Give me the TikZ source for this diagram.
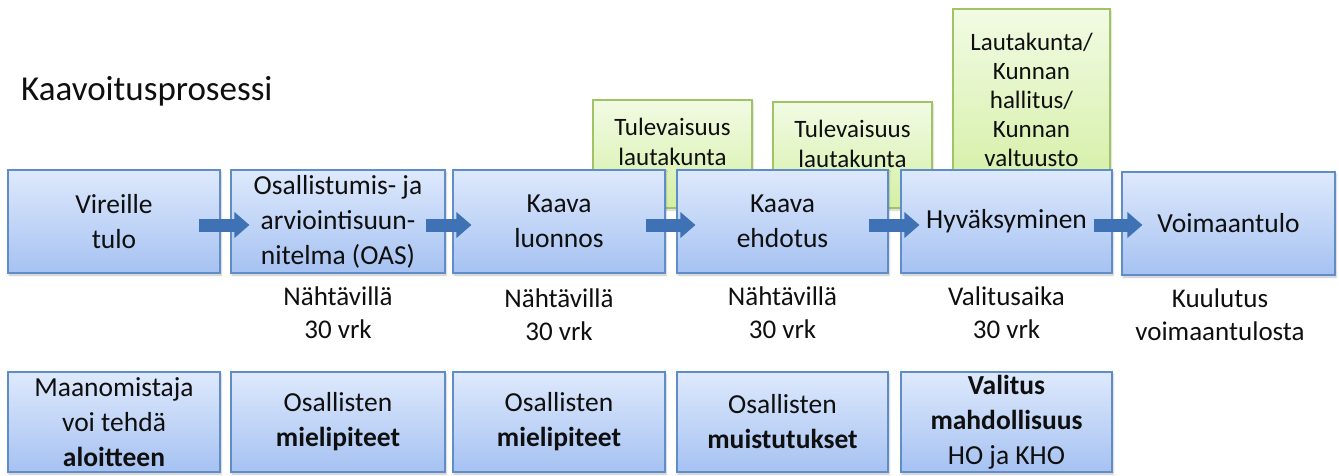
\documentclass[tikz,border=0pt]{standalone}
\usepackage{fontspec}
\setmainfont{Carlito}
\usetikzlibrary{arrows.meta,shadows.blur,calc}
\definecolor{bluetop}{RGB}{222,233,252}
\definecolor{bluebot}{RGB}{166,194,242}
\definecolor{blueedge}{RGB}{96,140,200}
\definecolor{greentop}{RGB}{242,251,228}
\definecolor{greenbot}{RGB}{212,239,165}
\definecolor{greenedge}{RGB}{160,196,100}
\definecolor{arrowblue}{RGB}{62,114,180}
\definecolor{txt}{RGB}{15,15,15}
\tikzset{
  bluebox/.style={draw=blueedge, line width=1.1pt, top color=bluetop, bottom color=bluebot,
    minimum width=212pt, minimum height=103pt, align=center, text=txt, inner sep=2pt,
    font=\fontsize{27.5}{35}\selectfont,
    blur shadow={shadow xshift=1pt, shadow yshift=-2pt, shadow blur steps=4, shadow opacity=25}},
  lowbox/.style={bluebox, minimum height=100pt},
  greenbox/.style={draw=greenedge, line width=1.1pt, top color=greentop, bottom color=greenbot,
    minimum width=159pt, inner sep=0pt,
    blur shadow={shadow xshift=1pt, shadow yshift=-2pt, shadow blur steps=4, shadow opacity=20}},
  greentext/.style={align=center, text=txt, font=\fontsize{25}{30}\selectfont, inner sep=0pt},
  undertext/.style={align=center, text=txt, font=\fontsize{27}{33}\selectfont, inner sep=0pt},
  flow/.style={draw=arrowblue, line width=13pt, -{Triangle[length=15pt,width=25pt]}},
}
\begin{document}
\begin{tikzpicture}[x=1pt,y=-1pt]
\useasboundingbox (0,0) rectangle (1339,475);
\node[anchor=base west, text=txt, font=\fontsize{35}{40}\selectfont, inner sep=0pt] (title) at (21,100) {Kaavoitusprosessi};
% green boxes (behind)
\node[greenbox, minimum height=108pt] (g1box) at (672.5,154) {};
\node[greentext] (g1) at (672.5,142) {Tulevaisuus\\lautakunta};
\node[greenbox, minimum height=106pt] (g2box) at (852.5,155) {};
\node[greentext] (g2) at (852.5,144) {Tulevaisuus\\lautakunta};
\node[greenbox, minimum width=157pt, minimum height=182pt] (g3box) at (1031.5,100) {};
\node[greentext, font=\fontsize{25}{29}\selectfont] (g3) at (1031.5,100) {Lautakunta/\\Kunnan\\hallitus/\\Kunnan\\valtuusto};
% top row
\node[bluebox] (b1) at (114,221.5) {Vireille\\tulo};
\node[bluebox, minimum width=214pt] (b2) at (338,221.5) {Osallistumis- ja\\arviointisuun-\\nitelma (OAS)};
\node[bluebox] (b3) at (559,221.5) {Kaava\\luonnos};
\node[bluebox, minimum width=211pt] (b4) at (782.5,221.5) {Kaava\\ehdotus};
\node[bluebox, minimum width=211pt] (b5) at (1006.5,221.5) {Hyväksyminen};
\node[bluebox, minimum width=213pt] (b6) at (1228.5,223.5) {Voimaantulo};
% arrows
\coordinate (a1s) at ($(b1.east)+(-22,3.5)$);
\coordinate (a1e) at ($(b2.west)+(19,3.5)$);
\coordinate (a2s) at ($(b2.east)+(-20,3.5)$);
\coordinate (a2e) at ($(b3.west)+(19,3.5)$);
\coordinate (a3s) at ($(b3.east)+(-20,3.5)$);
\coordinate (a3e) at ($(b4.west)+(19,3.5)$);
\coordinate (a4s) at ($(b4.east)+(-20,3.5)$);
\coordinate (a4e) at ($(b5.west)+(19,3.5)$);
\coordinate (a5s) at ($(b5.east)+(-19,3.5)$);
\coordinate (a5e) at ($(b6.west)+(21,1.5)$);
\draw[flow] (a1s) -- (a1e);
\draw[flow] (a2s) -- (a2e);
\draw[flow] (a3s) -- (a3e);
\draw[flow] (a4s) -- (a4e);
\draw[flow] (a5s) -- (a5e);
% texts under
\node[undertext] (u2) at (338,313) {Nähtävillä\\30 vrk};
\node[undertext] (u3) at (559,315) {Nähtävillä\\30 vrk};
\node[undertext] (u4) at (782.5,313) {Nähtävillä\\30 vrk};
\node[undertext] (u5) at (1006.5,313) {Valitusaika\\30 vrk};
\node[undertext] (u6) at (1220,315) {Kuulutus\\voimaantulosta};
% bottom row
\node[lowbox] (c1) at (114,422) {Maanomistaja\\voi tehdä\\\textbf{aloitteen}};
\node[lowbox, minimum width=214pt] (c2) at (338,422) {Osallisten\\\textbf{mielipiteet}};
\node[lowbox] (c3) at (559,422) {Osallisten\\\textbf{mielipiteet}};
\node[lowbox, minimum width=211pt] (c4) at (782.5,422) {Osallisten\\\textbf{muistutukset}};
\node[lowbox, minimum width=211pt] (c5) at (1006.5,422) {\textbf{Valitus}\\\textbf{mahdollisuus}\\HO ja KHO};
\end{tikzpicture}
\end{document}
